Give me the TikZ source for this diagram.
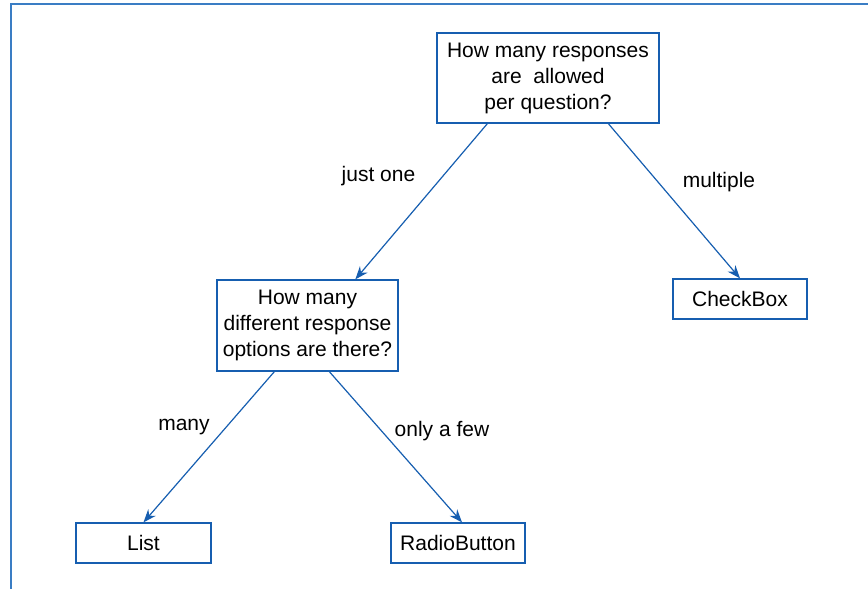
\documentclass[tikz,border=0pt]{standalone}
\usepackage{fontspec}
\setmainfont{Liberation Sans}
\usetikzlibrary{arrows.meta,calc}
\definecolor{edgeblue}{RGB}{22,94,176}
\definecolor{frameblue}{RGB}{58,125,196}
\begin{document}
\begin{tikzpicture}[x=1pt,y=-1pt,
  box/.style={draw=edgeblue,line width=1.3pt,align=center,inner sep=0pt,
    font=\fontsize{21}{26}\selectfont},
  conn/.style={draw=edgeblue,line width=1.2pt,-{Stealth[length=13pt,width=10pt]}},
  lbl/.style={font=\fontsize{21}{25.5}\selectfont,inner sep=0pt}]
\useasboundingbox (0,0) rectangle (868,589);
\coordinate (ftl) at (11,4);
\coordinate (ftr) at (868,4);
\coordinate (fbl) at (11,589);
\draw[frameblue,line width=2pt] (ftr) -- (ftl) -- (fbl);
\node[box,minimum width=222pt,minimum height=90pt] (q1) at (548,78) {How many responses\\are\ \ allowed\\per question?};
\node[box,minimum width=181pt,minimum height=91pt] (q2) at (307.5,325.5) {How many\\different response\\options are there?};
\node[box,minimum width=134pt,minimum height=40pt] (cb) at (740,299) {CheckBox};
\node[box,minimum width=135pt,minimum height=40pt] (ls) at (143.5,543) {List};
\node[box,minimum width=134pt,minimum height=40pt] (rb) at (458,543) {RadioButton};
\draw[conn] ($(q1.south west)+(51,0)$) -- ($(q2.north west)+(139,0)$);
\draw[conn] ($(q1.south west)+(172,0)$) -- (cb.north);
\draw[conn] ($(q2.south west)+(58,0)$) -- (ls.north);
\draw[conn] ($(q2.south west)+(113,0)$) -- ($(rb.north)+(4,0)$);
\node[lbl] (l1) at (378.5,176) {just one};
\node[lbl] (l2) at (719,182) {multiple};
\node[lbl] (l3) at (184,427) {many};
\node[lbl] (l4) at (442,431) {only a few};
\end{tikzpicture}
\end{document}
